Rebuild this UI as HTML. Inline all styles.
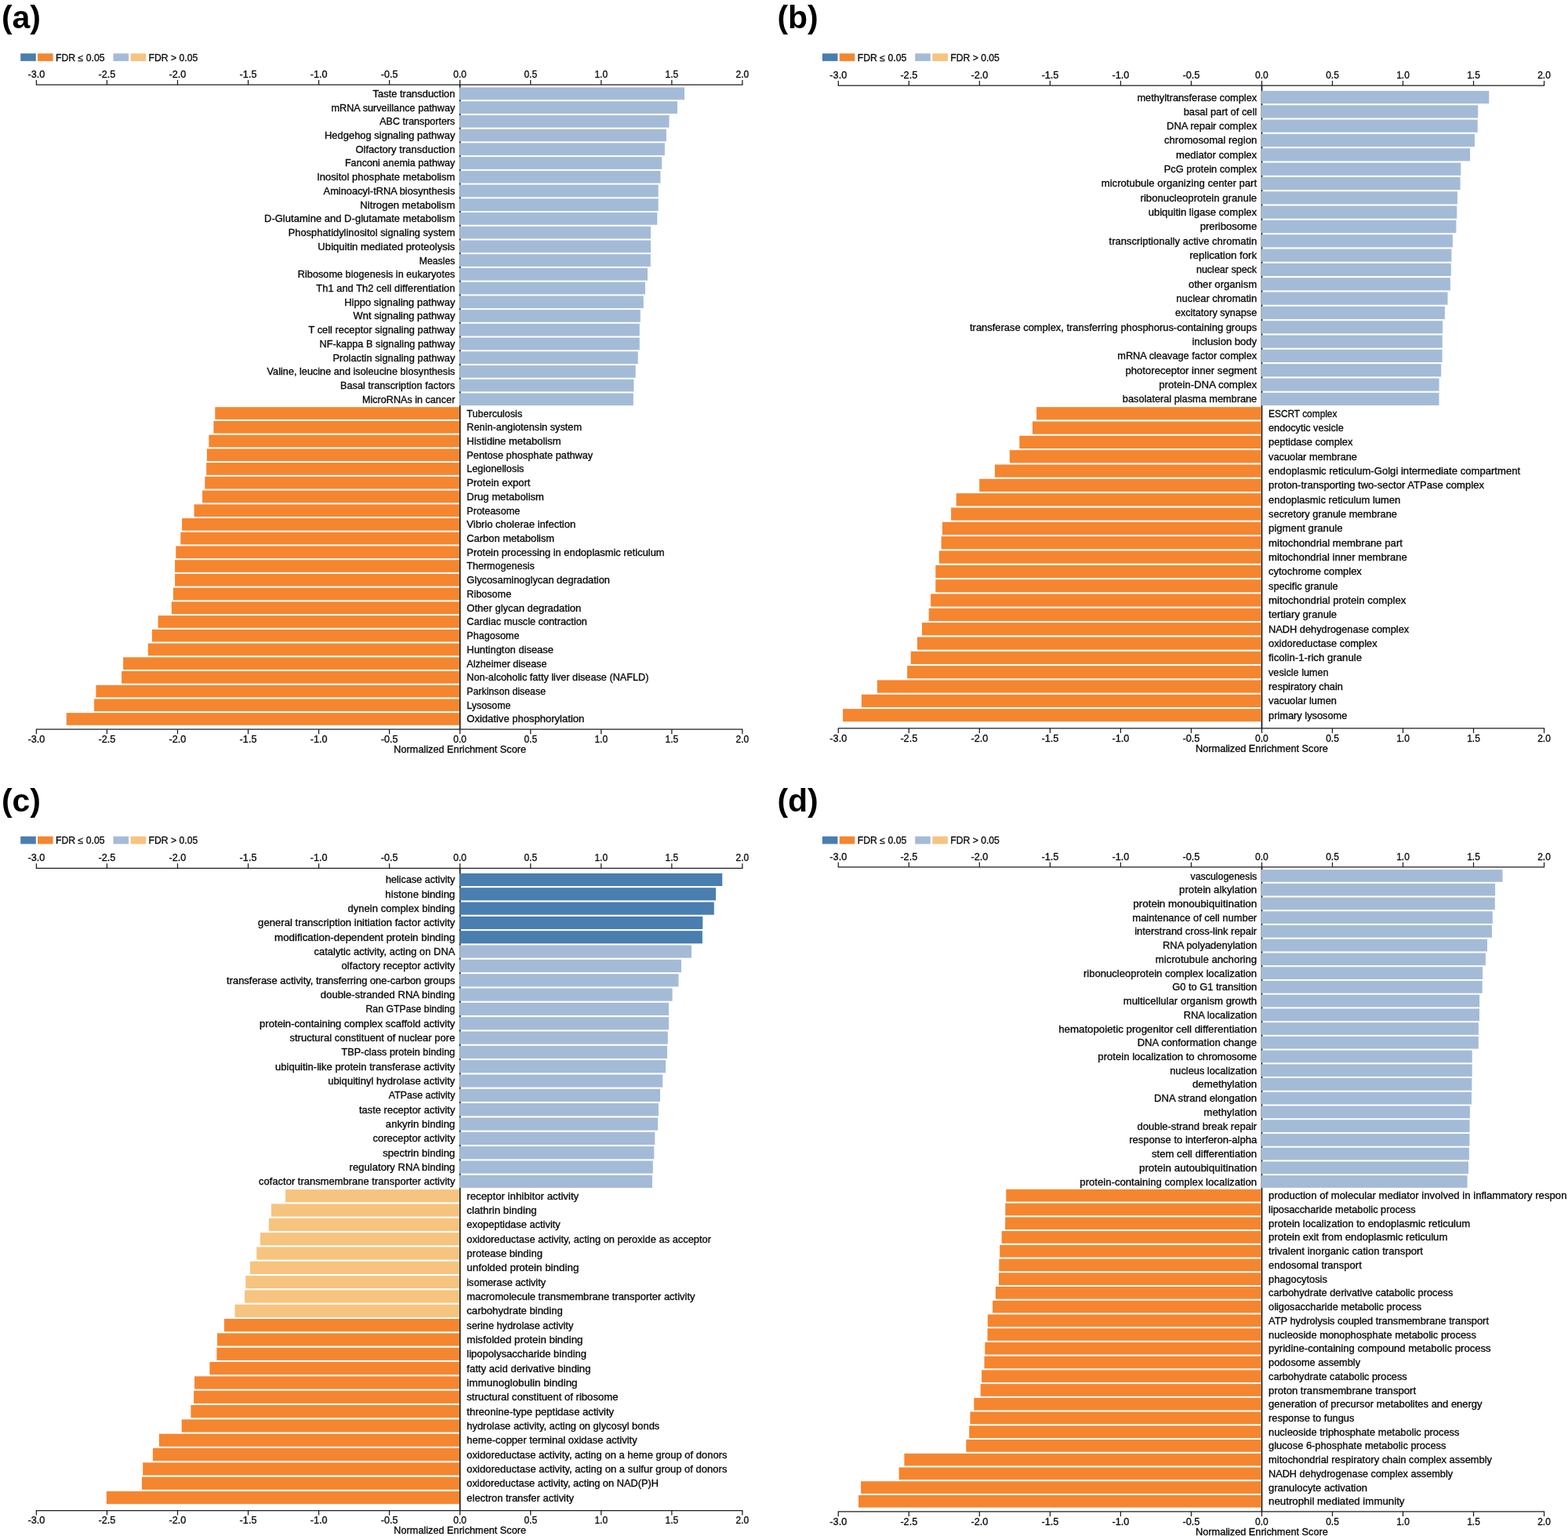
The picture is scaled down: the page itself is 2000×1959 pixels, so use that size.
<!DOCTYPE html>
<html lang="en">
<head>
<meta charset="utf-8">
<title>Normalized Enrichment Score bar charts</title>
<style>
html,body{margin:0;padding:0;background:#fff;}
body{width:2000px;height:1959px;overflow:hidden;}
svg{display:block;font-family:'Liberation Sans', sans-serif;font-size:12.2px;fill:#0a0a0a;}
text{stroke:#000;stroke-width:0.3px;stroke-linejoin:round;}
text.pl{stroke:none;}
</style>
</head>
<body>
<svg width="2000" height="1959" viewBox="0 0 2000 1959" role="img" aria-label="Normalized Enrichment Score bar charts, panels a to d">
<defs><clipPath id="edge"><rect x="0" y="0" width="1998.7" height="1959"/></clipPath></defs>
<g id="panel-a">
<text x="1.9" y="36.3" font-weight="bold" font-size="41" fill="#000" class="pl">(a)</text>
<rect x="26.2" y="68.2" width="19.6" height="9.7" fill="#4a7eae"/>
<rect x="48" y="68.2" width="19.6" height="9.7" fill="#f5862f"/>
<text x="71" y="77.7" textLength="62.61" lengthAdjust="spacingAndGlyphs">FDR ≤ 0.05</text>
<rect x="144.5" y="68.2" width="19.6" height="9.7" fill="#a4bbd7"/>
<rect x="166.6" y="68.2" width="19.6" height="9.7" fill="#f6c47f"/>
<text x="189.6" y="77.7" textLength="62.61" lengthAdjust="spacingAndGlyphs">FDR &gt; 0.05</text>
<path d="M586.7 108L586.7 930.2" stroke="#0d0d0d" stroke-width="1.6" fill="none"/>
<rect x="586.1" y="111.5" width="286.9" height="15.7" fill="#a4bbd7"/>
<text x="580.4" y="123.8" text-anchor="end" textLength="104.85" lengthAdjust="spacingAndGlyphs">Taste transduction</text>
<rect x="586.1" y="129.23" width="277.9" height="15.7" fill="#a4bbd7"/>
<text x="580.4" y="141.53" text-anchor="end" textLength="157.93" lengthAdjust="spacingAndGlyphs">mRNA surveillance pathway</text>
<rect x="586.1" y="146.95" width="267.4" height="15.7" fill="#a4bbd7"/>
<text x="580.4" y="159.25" text-anchor="end" textLength="96.16" lengthAdjust="spacingAndGlyphs">ABC transporters</text>
<rect x="586.1" y="164.68" width="263.8" height="15.7" fill="#a4bbd7"/>
<text x="580.4" y="176.98" text-anchor="end" textLength="166.45" lengthAdjust="spacingAndGlyphs">Hedgehog signaling pathway</text>
<rect x="586.1" y="182.4" width="261.8" height="15.7" fill="#a4bbd7"/>
<text x="580.4" y="194.7" text-anchor="end" textLength="126.99" lengthAdjust="spacingAndGlyphs">Olfactory transduction</text>
<rect x="586.1" y="200.13" width="258.1" height="15.7" fill="#a4bbd7"/>
<text x="580.4" y="212.43" text-anchor="end" textLength="140.5" lengthAdjust="spacingAndGlyphs">Fanconi anemia pathway</text>
<rect x="586.1" y="217.86" width="256.3" height="15.7" fill="#a4bbd7"/>
<text x="580.4" y="230.16" text-anchor="end" textLength="176.25" lengthAdjust="spacingAndGlyphs">Inositol phosphate metabolism</text>
<rect x="586.1" y="235.58" width="253.6" height="15.7" fill="#a4bbd7"/>
<text x="580.4" y="247.88" text-anchor="end" textLength="167.8" lengthAdjust="spacingAndGlyphs">Aminoacyl-tRNA biosynthesis</text>
<rect x="586.1" y="253.31" width="253.6" height="15.7" fill="#a4bbd7"/>
<text x="580.4" y="265.61" text-anchor="end" textLength="121.11" lengthAdjust="spacingAndGlyphs">Nitrogen metabolism</text>
<rect x="586.1" y="271.03" width="252.2" height="15.7" fill="#a4bbd7"/>
<text x="580.4" y="283.33" text-anchor="end" textLength="243.42" lengthAdjust="spacingAndGlyphs">D-Glutamine and D-glutamate metabolism</text>
<rect x="586.1" y="288.76" width="243.9" height="15.7" fill="#a4bbd7"/>
<text x="580.4" y="301.06" text-anchor="end" textLength="212.71" lengthAdjust="spacingAndGlyphs">Phosphatidylinositol signaling system</text>
<rect x="586.1" y="306.49" width="243.9" height="15.7" fill="#a4bbd7"/>
<text x="580.4" y="318.79" text-anchor="end" textLength="175.01" lengthAdjust="spacingAndGlyphs">Ubiquitin mediated proteolysis</text>
<rect x="586.1" y="324.21" width="243.7" height="15.7" fill="#a4bbd7"/>
<text x="580.4" y="336.51" text-anchor="end" textLength="45.72" lengthAdjust="spacingAndGlyphs">Measles</text>
<rect x="586.1" y="341.94" width="239.9" height="15.7" fill="#a4bbd7"/>
<text x="580.4" y="354.24" text-anchor="end" textLength="200.53" lengthAdjust="spacingAndGlyphs">Ribosome biogenesis in eukaryotes</text>
<rect x="586.1" y="359.66" width="236.9" height="15.7" fill="#a4bbd7"/>
<text x="580.4" y="371.96" text-anchor="end" textLength="177.06" lengthAdjust="spacingAndGlyphs">Th1 and Th2 cell differentiation</text>
<rect x="586.1" y="377.39" width="234.7" height="15.7" fill="#a4bbd7"/>
<text x="580.4" y="389.69" text-anchor="end" textLength="141.18" lengthAdjust="spacingAndGlyphs">Hippo signaling pathway</text>
<rect x="586.1" y="395.12" width="230.7" height="15.7" fill="#a4bbd7"/>
<text x="580.4" y="407.42" text-anchor="end" textLength="129.88" lengthAdjust="spacingAndGlyphs">Wnt signaling pathway</text>
<rect x="586.1" y="412.84" width="229.7" height="15.7" fill="#a4bbd7"/>
<text x="580.4" y="425.14" text-anchor="end" textLength="186.92" lengthAdjust="spacingAndGlyphs">T cell receptor signaling pathway</text>
<rect x="586.1" y="430.57" width="229.7" height="15.7" fill="#a4bbd7"/>
<text x="580.4" y="442.87" text-anchor="end" textLength="172.91" lengthAdjust="spacingAndGlyphs">NF-kappa B signaling pathway</text>
<rect x="586.1" y="448.29" width="227.6" height="15.7" fill="#a4bbd7"/>
<text x="580.4" y="460.59" text-anchor="end" textLength="155.88" lengthAdjust="spacingAndGlyphs">Prolactin signaling pathway</text>
<rect x="586.1" y="466.02" width="224.6" height="15.7" fill="#a4bbd7"/>
<text x="580.4" y="478.32" text-anchor="end" textLength="239.8" lengthAdjust="spacingAndGlyphs">Valine, leucine and isoleucine biosynthesis</text>
<rect x="586.1" y="483.75" width="222.3" height="15.7" fill="#a4bbd7"/>
<text x="580.4" y="496.05" text-anchor="end" textLength="146.35" lengthAdjust="spacingAndGlyphs">Basal transcription factors</text>
<rect x="586.1" y="501.47" width="221.7" height="15.7" fill="#a4bbd7"/>
<text x="580.4" y="513.77" text-anchor="end" textLength="118.4" lengthAdjust="spacingAndGlyphs">MicroRNAs in cancer</text>
<rect x="274.3" y="519.2" width="311.6" height="15.7" fill="#f5862f"/>
<text x="595.3" y="531.5" textLength="70.9" lengthAdjust="spacingAndGlyphs">Tuberculosis</text>
<rect x="272.4" y="536.92" width="313.5" height="15.7" fill="#f5862f"/>
<text x="595.3" y="549.22" textLength="146.74" lengthAdjust="spacingAndGlyphs">Renin-angiotensin system</text>
<rect x="266.4" y="554.65" width="319.5" height="15.7" fill="#f5862f"/>
<text x="595.3" y="566.95" textLength="120.3" lengthAdjust="spacingAndGlyphs">Histidine metabolism</text>
<rect x="263.9" y="572.38" width="322" height="15.7" fill="#f5862f"/>
<text x="595.3" y="584.68" textLength="160.91" lengthAdjust="spacingAndGlyphs">Pentose phosphate pathway</text>
<rect x="263.2" y="590.1" width="322.7" height="15.7" fill="#f5862f"/>
<text x="595.3" y="602.4" textLength="73.02" lengthAdjust="spacingAndGlyphs">Legionellosis</text>
<rect x="261.3" y="607.83" width="324.6" height="15.7" fill="#f5862f"/>
<text x="595.3" y="620.13" textLength="81.03" lengthAdjust="spacingAndGlyphs">Protein export</text>
<rect x="258.1" y="625.55" width="327.8" height="15.7" fill="#f5862f"/>
<text x="595.3" y="637.85" textLength="98.7" lengthAdjust="spacingAndGlyphs">Drug metabolism</text>
<rect x="247.6" y="643.28" width="338.3" height="15.7" fill="#f5862f"/>
<text x="595.3" y="655.58" textLength="67.84" lengthAdjust="spacingAndGlyphs">Proteasome</text>
<rect x="232.1" y="661.01" width="353.8" height="15.7" fill="#f5862f"/>
<text x="595.3" y="673.31" textLength="138.98" lengthAdjust="spacingAndGlyphs">Vibrio cholerae infection</text>
<rect x="230.3" y="678.73" width="355.6" height="15.7" fill="#f5862f"/>
<text x="595.3" y="691.03" textLength="111.77" lengthAdjust="spacingAndGlyphs">Carbon metabolism</text>
<rect x="224.3" y="696.46" width="361.6" height="15.7" fill="#f5862f"/>
<text x="595.3" y="708.76" textLength="252.32" lengthAdjust="spacingAndGlyphs">Protein processing in endoplasmic reticulum</text>
<rect x="223.1" y="714.18" width="362.8" height="15.7" fill="#f5862f"/>
<text x="595.3" y="726.48" textLength="86.42" lengthAdjust="spacingAndGlyphs">Thermogenesis</text>
<rect x="223.1" y="731.91" width="362.8" height="15.7" fill="#f5862f"/>
<text x="595.3" y="744.21" textLength="182.61" lengthAdjust="spacingAndGlyphs">Glycosaminoglycan degradation</text>
<rect x="220.9" y="749.64" width="365" height="15.7" fill="#f5862f"/>
<text x="595.3" y="761.94" textLength="56.87" lengthAdjust="spacingAndGlyphs">Ribosome</text>
<rect x="218.8" y="767.36" width="367.1" height="15.7" fill="#f5862f"/>
<text x="595.3" y="779.66" textLength="145.94" lengthAdjust="spacingAndGlyphs">Other glycan degradation</text>
<rect x="201.6" y="785.09" width="384.3" height="15.7" fill="#f5862f"/>
<text x="595.3" y="797.39" textLength="153.6" lengthAdjust="spacingAndGlyphs">Cardiac muscle contraction</text>
<rect x="193.9" y="802.81" width="392" height="15.7" fill="#f5862f"/>
<text x="595.3" y="815.11" textLength="67.11" lengthAdjust="spacingAndGlyphs">Phagosome</text>
<rect x="188.8" y="820.54" width="397.1" height="15.7" fill="#f5862f"/>
<text x="595.3" y="832.84" textLength="110.63" lengthAdjust="spacingAndGlyphs">Huntington disease</text>
<rect x="157.1" y="838.27" width="428.8" height="15.7" fill="#f5862f"/>
<text x="595.3" y="850.57" textLength="102.06" lengthAdjust="spacingAndGlyphs">Alzheimer disease</text>
<rect x="155.1" y="855.99" width="430.8" height="15.7" fill="#f5862f"/>
<text x="595.3" y="868.29" textLength="232.21" lengthAdjust="spacingAndGlyphs">Non-alcoholic fatty liver disease (NAFLD)</text>
<rect x="122.4" y="873.72" width="463.5" height="15.7" fill="#f5862f"/>
<text x="595.3" y="886.02" textLength="100.7" lengthAdjust="spacingAndGlyphs">Parkinson disease</text>
<rect x="120.1" y="891.44" width="465.8" height="15.7" fill="#f5862f"/>
<text x="595.3" y="903.74" textLength="56.22" lengthAdjust="spacingAndGlyphs">Lysosome</text>
<rect x="84.7" y="909.17" width="501.2" height="15.7" fill="#f5862f"/>
<text x="595.3" y="921.47" textLength="150" lengthAdjust="spacingAndGlyphs">Oxidative phosphorylation</text>
<path d="M45.85 108L947.45 108" stroke="#1c1c1c" stroke-width="1.25" fill="none"/>
<path d="M46.4 108L46.4 102" stroke="#1c1c1c" stroke-width="1.25" fill="none"/>
<text x="46.4" y="98.7" text-anchor="middle" textLength="21.86" lengthAdjust="spacingAndGlyphs">-3.0</text>
<path d="M136.45 108L136.45 102" stroke="#1c1c1c" stroke-width="1.25" fill="none"/>
<text x="136.45" y="98.7" text-anchor="middle" textLength="21.86" lengthAdjust="spacingAndGlyphs">-2.5</text>
<path d="M226.5 108L226.5 102" stroke="#1c1c1c" stroke-width="1.25" fill="none"/>
<text x="226.5" y="98.7" text-anchor="middle" textLength="21.86" lengthAdjust="spacingAndGlyphs">-2.0</text>
<path d="M316.55 108L316.55 102" stroke="#1c1c1c" stroke-width="1.25" fill="none"/>
<text x="316.55" y="98.7" text-anchor="middle" textLength="21.86" lengthAdjust="spacingAndGlyphs">-1.5</text>
<path d="M406.6 108L406.6 102" stroke="#1c1c1c" stroke-width="1.25" fill="none"/>
<text x="406.6" y="98.7" text-anchor="middle" textLength="21.86" lengthAdjust="spacingAndGlyphs">-1.0</text>
<path d="M496.65 108L496.65 102" stroke="#1c1c1c" stroke-width="1.25" fill="none"/>
<text x="496.65" y="98.7" text-anchor="middle" textLength="21.86" lengthAdjust="spacingAndGlyphs">-0.5</text>
<path d="M586.7 108L586.7 102" stroke="#1c1c1c" stroke-width="1.25" fill="none"/>
<text x="586.7" y="98.7" text-anchor="middle" textLength="16.7" lengthAdjust="spacingAndGlyphs">0.0</text>
<path d="M676.75 108L676.75 102" stroke="#1c1c1c" stroke-width="1.25" fill="none"/>
<text x="676.75" y="98.7" text-anchor="middle" textLength="16.7" lengthAdjust="spacingAndGlyphs">0.5</text>
<path d="M766.8 108L766.8 102" stroke="#1c1c1c" stroke-width="1.25" fill="none"/>
<text x="766.8" y="98.7" text-anchor="middle" textLength="16.7" lengthAdjust="spacingAndGlyphs">1.0</text>
<path d="M856.85 108L856.85 102" stroke="#1c1c1c" stroke-width="1.25" fill="none"/>
<text x="856.85" y="98.7" text-anchor="middle" textLength="16.7" lengthAdjust="spacingAndGlyphs">1.5</text>
<path d="M946.9 108L946.9 102" stroke="#1c1c1c" stroke-width="1.25" fill="none"/>
<text x="946.9" y="98.7" text-anchor="middle" textLength="16.7" lengthAdjust="spacingAndGlyphs">2.0</text>
<path d="M45.85 930.2L947.45 930.2" stroke="#1c1c1c" stroke-width="1.25" fill="none"/>
<path d="M46.4 930.2L46.4 936.2" stroke="#1c1c1c" stroke-width="1.25" fill="none"/>
<text x="46.4" y="947.1" text-anchor="middle" textLength="21.86" lengthAdjust="spacingAndGlyphs">-3.0</text>
<path d="M136.45 930.2L136.45 936.2" stroke="#1c1c1c" stroke-width="1.25" fill="none"/>
<text x="136.45" y="947.1" text-anchor="middle" textLength="21.86" lengthAdjust="spacingAndGlyphs">-2.5</text>
<path d="M226.5 930.2L226.5 936.2" stroke="#1c1c1c" stroke-width="1.25" fill="none"/>
<text x="226.5" y="947.1" text-anchor="middle" textLength="21.86" lengthAdjust="spacingAndGlyphs">-2.0</text>
<path d="M316.55 930.2L316.55 936.2" stroke="#1c1c1c" stroke-width="1.25" fill="none"/>
<text x="316.55" y="947.1" text-anchor="middle" textLength="21.86" lengthAdjust="spacingAndGlyphs">-1.5</text>
<path d="M406.6 930.2L406.6 936.2" stroke="#1c1c1c" stroke-width="1.25" fill="none"/>
<text x="406.6" y="947.1" text-anchor="middle" textLength="21.86" lengthAdjust="spacingAndGlyphs">-1.0</text>
<path d="M496.65 930.2L496.65 936.2" stroke="#1c1c1c" stroke-width="1.25" fill="none"/>
<text x="496.65" y="947.1" text-anchor="middle" textLength="21.86" lengthAdjust="spacingAndGlyphs">-0.5</text>
<path d="M586.7 930.2L586.7 936.2" stroke="#1c1c1c" stroke-width="1.25" fill="none"/>
<text x="586.7" y="947.1" text-anchor="middle" textLength="16.7" lengthAdjust="spacingAndGlyphs">0.0</text>
<path d="M676.75 930.2L676.75 936.2" stroke="#1c1c1c" stroke-width="1.25" fill="none"/>
<text x="676.75" y="947.1" text-anchor="middle" textLength="16.7" lengthAdjust="spacingAndGlyphs">0.5</text>
<path d="M766.8 930.2L766.8 936.2" stroke="#1c1c1c" stroke-width="1.25" fill="none"/>
<text x="766.8" y="947.1" text-anchor="middle" textLength="16.7" lengthAdjust="spacingAndGlyphs">1.0</text>
<path d="M856.85 930.2L856.85 936.2" stroke="#1c1c1c" stroke-width="1.25" fill="none"/>
<text x="856.85" y="947.1" text-anchor="middle" textLength="16.7" lengthAdjust="spacingAndGlyphs">1.5</text>
<path d="M946.9 930.2L946.9 936.2" stroke="#1c1c1c" stroke-width="1.25" fill="none"/>
<text x="946.9" y="947.1" text-anchor="middle" textLength="16.7" lengthAdjust="spacingAndGlyphs">2.0</text>
<text x="586.7" y="959.8" text-anchor="middle" textLength="168.69" lengthAdjust="spacingAndGlyphs">Normalized Enrichment Score</text>
</g>
<g id="panel-b">
<text x="991.4" y="35.9" font-weight="bold" font-size="41" fill="#000" class="pl">(b)</text>
<rect x="1048.9" y="68.2" width="19.6" height="9.7" fill="#4a7eae"/>
<rect x="1070.7" y="68.2" width="19.6" height="9.7" fill="#f5862f"/>
<text x="1093.7" y="77.7" textLength="62.61" lengthAdjust="spacingAndGlyphs">FDR ≤ 0.05</text>
<rect x="1167.2" y="68.2" width="19.6" height="9.7" fill="#a4bbd7"/>
<rect x="1189.3" y="68.2" width="19.6" height="9.7" fill="#f6c47f"/>
<text x="1212.3" y="77.7" textLength="62.61" lengthAdjust="spacingAndGlyphs">FDR &gt; 0.05</text>
<path d="M1609.45 109.05L1609.45 928.95" stroke="#0d0d0d" stroke-width="1.6" fill="none"/>
<rect x="1608.85" y="115.9" width="290.45" height="16.2" fill="#a4bbd7"/>
<text x="1603.15" y="128.5" text-anchor="end" textLength="152.68" lengthAdjust="spacingAndGlyphs">methyltransferase complex</text>
<rect x="1608.85" y="134.23" width="276.35" height="16.2" fill="#a4bbd7"/>
<text x="1603.15" y="146.83" text-anchor="end" textLength="93.47" lengthAdjust="spacingAndGlyphs">basal part of cell</text>
<rect x="1608.85" y="152.56" width="275.85" height="16.2" fill="#a4bbd7"/>
<text x="1603.15" y="165.16" text-anchor="end" textLength="115.09" lengthAdjust="spacingAndGlyphs">DNA repair complex</text>
<rect x="1608.85" y="170.89" width="272.05" height="16.2" fill="#a4bbd7"/>
<text x="1603.15" y="183.49" text-anchor="end" textLength="118.13" lengthAdjust="spacingAndGlyphs">chromosomal region</text>
<rect x="1608.85" y="189.22" width="266.25" height="16.2" fill="#a4bbd7"/>
<text x="1603.15" y="201.82" text-anchor="end" textLength="103.07" lengthAdjust="spacingAndGlyphs">mediator complex</text>
<rect x="1608.85" y="207.55" width="254.45" height="16.2" fill="#a4bbd7"/>
<text x="1603.15" y="220.15" text-anchor="end" textLength="118.27" lengthAdjust="spacingAndGlyphs">PcG protein complex</text>
<rect x="1608.85" y="225.88" width="253.75" height="16.2" fill="#a4bbd7"/>
<text x="1603.15" y="238.48" text-anchor="end" textLength="198.37" lengthAdjust="spacingAndGlyphs">microtubule organizing center part</text>
<rect x="1608.85" y="244.21" width="250.05" height="16.2" fill="#a4bbd7"/>
<text x="1603.15" y="256.81" text-anchor="end" textLength="148.58" lengthAdjust="spacingAndGlyphs">ribonucleoprotein granule</text>
<rect x="1608.85" y="262.54" width="249.45" height="16.2" fill="#a4bbd7"/>
<text x="1603.15" y="275.14" text-anchor="end" textLength="138.5" lengthAdjust="spacingAndGlyphs">ubiquitin ligase complex</text>
<rect x="1608.85" y="280.87" width="248.55" height="16.2" fill="#a4bbd7"/>
<text x="1603.15" y="293.47" text-anchor="end" textLength="72.47" lengthAdjust="spacingAndGlyphs">preribosome</text>
<rect x="1608.85" y="299.2" width="244.05" height="16.2" fill="#a4bbd7"/>
<text x="1603.15" y="311.8" text-anchor="end" textLength="188.54" lengthAdjust="spacingAndGlyphs">transcriptionally active chromatin</text>
<rect x="1608.85" y="317.53" width="242.55" height="16.2" fill="#a4bbd7"/>
<text x="1603.15" y="330.13" text-anchor="end" textLength="85.99" lengthAdjust="spacingAndGlyphs">replication fork</text>
<rect x="1608.85" y="335.86" width="241.95" height="16.2" fill="#a4bbd7"/>
<text x="1603.15" y="348.46" text-anchor="end" textLength="77.2" lengthAdjust="spacingAndGlyphs">nuclear speck</text>
<rect x="1608.85" y="354.19" width="241.05" height="16.2" fill="#a4bbd7"/>
<text x="1603.15" y="366.79" text-anchor="end" textLength="87.2" lengthAdjust="spacingAndGlyphs">other organism</text>
<rect x="1608.85" y="372.52" width="237.65" height="16.2" fill="#a4bbd7"/>
<text x="1603.15" y="385.12" text-anchor="end" textLength="102.79" lengthAdjust="spacingAndGlyphs">nuclear chromatin</text>
<rect x="1608.85" y="390.85" width="234.05" height="16.2" fill="#a4bbd7"/>
<text x="1603.15" y="403.45" text-anchor="end" textLength="104.25" lengthAdjust="spacingAndGlyphs">excitatory synapse</text>
<rect x="1608.85" y="409.18" width="231.25" height="16.2" fill="#a4bbd7"/>
<text x="1603.15" y="421.78" text-anchor="end" textLength="366.14" lengthAdjust="spacingAndGlyphs">transferase complex, transferring phosphorus-containing groups</text>
<rect x="1608.85" y="427.51" width="230.95" height="16.2" fill="#a4bbd7"/>
<text x="1603.15" y="440.11" text-anchor="end" textLength="82.75" lengthAdjust="spacingAndGlyphs">inclusion body</text>
<rect x="1608.85" y="445.84" width="230.75" height="16.2" fill="#a4bbd7"/>
<text x="1603.15" y="458.44" text-anchor="end" textLength="177.85" lengthAdjust="spacingAndGlyphs">mRNA cleavage factor complex</text>
<rect x="1608.85" y="464.17" width="229.35" height="16.2" fill="#a4bbd7"/>
<text x="1603.15" y="476.77" text-anchor="end" textLength="167.7" lengthAdjust="spacingAndGlyphs">photoreceptor inner segment</text>
<rect x="1608.85" y="482.5" width="226.75" height="16.2" fill="#a4bbd7"/>
<text x="1603.15" y="495.1" text-anchor="end" textLength="124.89" lengthAdjust="spacingAndGlyphs">protein-DNA complex</text>
<rect x="1608.85" y="500.83" width="226.65" height="16.2" fill="#a4bbd7"/>
<text x="1603.15" y="513.43" text-anchor="end" textLength="171.28" lengthAdjust="spacingAndGlyphs">basolateral plasma membrane</text>
<rect x="1322.1" y="519.16" width="286.55" height="16.2" fill="#f5862f"/>
<text x="1618.05" y="531.76" textLength="87.38" lengthAdjust="spacingAndGlyphs">ESCRT complex</text>
<rect x="1316.9" y="537.49" width="291.75" height="16.2" fill="#f5862f"/>
<text x="1618.05" y="550.09" textLength="95.74" lengthAdjust="spacingAndGlyphs">endocytic vesicle</text>
<rect x="1300.3" y="555.82" width="308.35" height="16.2" fill="#f5862f"/>
<text x="1618.05" y="568.42" textLength="107.32" lengthAdjust="spacingAndGlyphs">peptidase complex</text>
<rect x="1287.8" y="574.15" width="320.85" height="16.2" fill="#f5862f"/>
<text x="1618.05" y="586.75" textLength="112.91" lengthAdjust="spacingAndGlyphs">vacuolar membrane</text>
<rect x="1268.9" y="592.48" width="339.75" height="16.2" fill="#f5862f"/>
<text x="1618.05" y="605.08" textLength="321.08" lengthAdjust="spacingAndGlyphs">endoplasmic reticulum-Golgi intermediate compartment</text>
<rect x="1249.2" y="610.81" width="359.45" height="16.2" fill="#f5862f"/>
<text x="1618.05" y="623.41" textLength="274.93" lengthAdjust="spacingAndGlyphs">proton-transporting two-sector ATPase complex</text>
<rect x="1219.7" y="629.14" width="388.95" height="16.2" fill="#f5862f"/>
<text x="1618.05" y="641.74" textLength="168.29" lengthAdjust="spacingAndGlyphs">endoplasmic reticulum lumen</text>
<rect x="1213.1" y="647.47" width="395.55" height="16.2" fill="#f5862f"/>
<text x="1618.05" y="660.07" textLength="163.9" lengthAdjust="spacingAndGlyphs">secretory granule membrane</text>
<rect x="1201.9" y="665.8" width="406.75" height="16.2" fill="#f5862f"/>
<text x="1618.05" y="678.4" textLength="94.46" lengthAdjust="spacingAndGlyphs">pigment granule</text>
<rect x="1200.6" y="684.13" width="408.05" height="16.2" fill="#f5862f"/>
<text x="1618.05" y="696.73" textLength="170.87" lengthAdjust="spacingAndGlyphs">mitochondrial membrane part</text>
<rect x="1197.8" y="702.46" width="410.85" height="16.2" fill="#f5862f"/>
<text x="1618.05" y="715.06" textLength="176.83" lengthAdjust="spacingAndGlyphs">mitochondrial inner membrane</text>
<rect x="1193.3" y="720.79" width="415.35" height="16.2" fill="#f5862f"/>
<text x="1618.05" y="733.39" textLength="118.81" lengthAdjust="spacingAndGlyphs">cytochrome complex</text>
<rect x="1193.3" y="739.12" width="415.35" height="16.2" fill="#f5862f"/>
<text x="1618.05" y="751.72" textLength="88.66" lengthAdjust="spacingAndGlyphs">specific granule</text>
<rect x="1187.1" y="757.45" width="421.55" height="16.2" fill="#f5862f"/>
<text x="1618.05" y="770.05" textLength="175.4" lengthAdjust="spacingAndGlyphs">mitochondrial protein complex</text>
<rect x="1184.7" y="775.78" width="423.95" height="16.2" fill="#f5862f"/>
<text x="1618.05" y="788.38" textLength="87.04" lengthAdjust="spacingAndGlyphs">tertiary granule</text>
<rect x="1176" y="794.11" width="432.65" height="16.2" fill="#f5862f"/>
<text x="1618.05" y="806.71" textLength="179.16" lengthAdjust="spacingAndGlyphs">NADH dehydrogenase complex</text>
<rect x="1170" y="812.44" width="438.65" height="16.2" fill="#f5862f"/>
<text x="1618.05" y="825.04" textLength="138.52" lengthAdjust="spacingAndGlyphs">oxidoreductase complex</text>
<rect x="1161.7" y="830.77" width="446.95" height="16.2" fill="#f5862f"/>
<text x="1618.05" y="843.37" textLength="119.02" lengthAdjust="spacingAndGlyphs">ficolin-1-rich granule</text>
<rect x="1157.1" y="849.1" width="451.55" height="16.2" fill="#f5862f"/>
<text x="1618.05" y="861.7" textLength="76.47" lengthAdjust="spacingAndGlyphs">vesicle lumen</text>
<rect x="1118.9" y="867.43" width="489.75" height="16.2" fill="#f5862f"/>
<text x="1618.05" y="880.03" textLength="94.91" lengthAdjust="spacingAndGlyphs">respiratory chain</text>
<rect x="1098.9" y="885.76" width="509.75" height="16.2" fill="#f5862f"/>
<text x="1618.05" y="898.36" textLength="86.85" lengthAdjust="spacingAndGlyphs">vacuolar lumen</text>
<rect x="1075.1" y="904.09" width="533.55" height="16.2" fill="#f5862f"/>
<text x="1618.05" y="916.69" textLength="100.38" lengthAdjust="spacingAndGlyphs">primary lysosome</text>
<path d="M1068.75 109.05L1970.1 109.05" stroke="#1c1c1c" stroke-width="1.25" fill="none"/>
<path d="M1069.3 109.05L1069.3 103.05" stroke="#1c1c1c" stroke-width="1.25" fill="none"/>
<text x="1069.3" y="99.75" text-anchor="middle" textLength="21.86" lengthAdjust="spacingAndGlyphs">-3.0</text>
<path d="M1159.33 109.05L1159.33 103.05" stroke="#1c1c1c" stroke-width="1.25" fill="none"/>
<text x="1159.33" y="99.75" text-anchor="middle" textLength="21.86" lengthAdjust="spacingAndGlyphs">-2.5</text>
<path d="M1249.35 109.05L1249.35 103.05" stroke="#1c1c1c" stroke-width="1.25" fill="none"/>
<text x="1249.35" y="99.75" text-anchor="middle" textLength="21.86" lengthAdjust="spacingAndGlyphs">-2.0</text>
<path d="M1339.38 109.05L1339.38 103.05" stroke="#1c1c1c" stroke-width="1.25" fill="none"/>
<text x="1339.38" y="99.75" text-anchor="middle" textLength="21.86" lengthAdjust="spacingAndGlyphs">-1.5</text>
<path d="M1429.4 109.05L1429.4 103.05" stroke="#1c1c1c" stroke-width="1.25" fill="none"/>
<text x="1429.4" y="99.75" text-anchor="middle" textLength="21.86" lengthAdjust="spacingAndGlyphs">-1.0</text>
<path d="M1519.42 109.05L1519.42 103.05" stroke="#1c1c1c" stroke-width="1.25" fill="none"/>
<text x="1519.42" y="99.75" text-anchor="middle" textLength="21.86" lengthAdjust="spacingAndGlyphs">-0.5</text>
<path d="M1609.45 109.05L1609.45 103.05" stroke="#1c1c1c" stroke-width="1.25" fill="none"/>
<text x="1609.45" y="99.75" text-anchor="middle" textLength="16.7" lengthAdjust="spacingAndGlyphs">0.0</text>
<path d="M1699.48 109.05L1699.48 103.05" stroke="#1c1c1c" stroke-width="1.25" fill="none"/>
<text x="1699.48" y="99.75" text-anchor="middle" textLength="16.7" lengthAdjust="spacingAndGlyphs">0.5</text>
<path d="M1789.5 109.05L1789.5 103.05" stroke="#1c1c1c" stroke-width="1.25" fill="none"/>
<text x="1789.5" y="99.75" text-anchor="middle" textLength="16.7" lengthAdjust="spacingAndGlyphs">1.0</text>
<path d="M1879.53 109.05L1879.53 103.05" stroke="#1c1c1c" stroke-width="1.25" fill="none"/>
<text x="1879.53" y="99.75" text-anchor="middle" textLength="16.7" lengthAdjust="spacingAndGlyphs">1.5</text>
<path d="M1969.55 109.05L1969.55 103.05" stroke="#1c1c1c" stroke-width="1.25" fill="none"/>
<text x="1969.55" y="99.75" text-anchor="middle" textLength="16.7" lengthAdjust="spacingAndGlyphs">2.0</text>
<path d="M1068.75 928.95L1970.1 928.95" stroke="#1c1c1c" stroke-width="1.25" fill="none"/>
<path d="M1069.3 928.95L1069.3 934.95" stroke="#1c1c1c" stroke-width="1.25" fill="none"/>
<text x="1069.3" y="945.85" text-anchor="middle" textLength="21.86" lengthAdjust="spacingAndGlyphs">-3.0</text>
<path d="M1159.33 928.95L1159.33 934.95" stroke="#1c1c1c" stroke-width="1.25" fill="none"/>
<text x="1159.33" y="945.85" text-anchor="middle" textLength="21.86" lengthAdjust="spacingAndGlyphs">-2.5</text>
<path d="M1249.35 928.95L1249.35 934.95" stroke="#1c1c1c" stroke-width="1.25" fill="none"/>
<text x="1249.35" y="945.85" text-anchor="middle" textLength="21.86" lengthAdjust="spacingAndGlyphs">-2.0</text>
<path d="M1339.38 928.95L1339.38 934.95" stroke="#1c1c1c" stroke-width="1.25" fill="none"/>
<text x="1339.38" y="945.85" text-anchor="middle" textLength="21.86" lengthAdjust="spacingAndGlyphs">-1.5</text>
<path d="M1429.4 928.95L1429.4 934.95" stroke="#1c1c1c" stroke-width="1.25" fill="none"/>
<text x="1429.4" y="945.85" text-anchor="middle" textLength="21.86" lengthAdjust="spacingAndGlyphs">-1.0</text>
<path d="M1519.42 928.95L1519.42 934.95" stroke="#1c1c1c" stroke-width="1.25" fill="none"/>
<text x="1519.42" y="945.85" text-anchor="middle" textLength="21.86" lengthAdjust="spacingAndGlyphs">-0.5</text>
<path d="M1609.45 928.95L1609.45 934.95" stroke="#1c1c1c" stroke-width="1.25" fill="none"/>
<text x="1609.45" y="945.85" text-anchor="middle" textLength="16.7" lengthAdjust="spacingAndGlyphs">0.0</text>
<path d="M1699.48 928.95L1699.48 934.95" stroke="#1c1c1c" stroke-width="1.25" fill="none"/>
<text x="1699.48" y="945.85" text-anchor="middle" textLength="16.7" lengthAdjust="spacingAndGlyphs">0.5</text>
<path d="M1789.5 928.95L1789.5 934.95" stroke="#1c1c1c" stroke-width="1.25" fill="none"/>
<text x="1789.5" y="945.85" text-anchor="middle" textLength="16.7" lengthAdjust="spacingAndGlyphs">1.0</text>
<path d="M1879.53 928.95L1879.53 934.95" stroke="#1c1c1c" stroke-width="1.25" fill="none"/>
<text x="1879.53" y="945.85" text-anchor="middle" textLength="16.7" lengthAdjust="spacingAndGlyphs">1.5</text>
<path d="M1969.55 928.95L1969.55 934.95" stroke="#1c1c1c" stroke-width="1.25" fill="none"/>
<text x="1969.55" y="945.85" text-anchor="middle" textLength="16.7" lengthAdjust="spacingAndGlyphs">2.0</text>
<text x="1609.45" y="958.55" text-anchor="middle" textLength="168.69" lengthAdjust="spacingAndGlyphs">Normalized Enrichment Score</text>
</g>
<g id="panel-c">
<text x="1.9" y="1035" font-weight="bold" font-size="41" fill="#000" class="pl">(c)</text>
<rect x="26.2" y="1066.7" width="19.6" height="9.7" fill="#4a7eae"/>
<rect x="48" y="1066.7" width="19.6" height="9.7" fill="#f5862f"/>
<text x="71" y="1076.2" textLength="62.61" lengthAdjust="spacingAndGlyphs">FDR ≤ 0.05</text>
<rect x="144.5" y="1066.7" width="19.6" height="9.7" fill="#a4bbd7"/>
<rect x="166.6" y="1066.7" width="19.6" height="9.7" fill="#f6c47f"/>
<text x="189.6" y="1076.2" textLength="62.61" lengthAdjust="spacingAndGlyphs">FDR &gt; 0.05</text>
<path d="M586.7 1107.25L586.7 1926.5" stroke="#0d0d0d" stroke-width="1.6" fill="none"/>
<rect x="586.1" y="1113.85" width="335.2" height="16.2" fill="#4a7eae"/>
<text x="580.4" y="1126.45" text-anchor="end" textLength="88.5" lengthAdjust="spacingAndGlyphs">helicase activity</text>
<rect x="586.1" y="1132.18" width="327" height="16.2" fill="#4a7eae"/>
<text x="580.4" y="1144.78" text-anchor="end" textLength="89.02" lengthAdjust="spacingAndGlyphs">histone binding</text>
<rect x="586.1" y="1150.51" width="324.7" height="16.2" fill="#4a7eae"/>
<text x="580.4" y="1163.11" text-anchor="end" textLength="136.96" lengthAdjust="spacingAndGlyphs">dynein complex binding</text>
<rect x="586.1" y="1168.84" width="310.2" height="16.2" fill="#4a7eae"/>
<text x="580.4" y="1181.44" text-anchor="end" textLength="251.28" lengthAdjust="spacingAndGlyphs">general transcription initiation factor activity</text>
<rect x="586.1" y="1187.17" width="309.8" height="16.2" fill="#4a7eae"/>
<text x="580.4" y="1199.77" text-anchor="end" textLength="230.39" lengthAdjust="spacingAndGlyphs">modification-dependent protein binding</text>
<rect x="586.1" y="1205.49" width="295.9" height="16.2" fill="#a4bbd7"/>
<text x="580.4" y="1218.09" text-anchor="end" textLength="179.89" lengthAdjust="spacingAndGlyphs">catalytic activity, acting on DNA</text>
<rect x="586.1" y="1223.82" width="282.9" height="16.2" fill="#a4bbd7"/>
<text x="580.4" y="1236.42" text-anchor="end" textLength="144.84" lengthAdjust="spacingAndGlyphs">olfactory receptor activity</text>
<rect x="586.1" y="1242.15" width="279.4" height="16.2" fill="#a4bbd7"/>
<text x="580.4" y="1254.75" text-anchor="end" textLength="291.32" lengthAdjust="spacingAndGlyphs">transferase activity, transferring one-carbon groups</text>
<rect x="586.1" y="1260.48" width="271.5" height="16.2" fill="#a4bbd7"/>
<text x="580.4" y="1273.08" text-anchor="end" textLength="171.54" lengthAdjust="spacingAndGlyphs">double-stranded RNA binding</text>
<rect x="586.1" y="1278.81" width="266.9" height="16.2" fill="#a4bbd7"/>
<text x="580.4" y="1291.41" text-anchor="end" textLength="113.87" lengthAdjust="spacingAndGlyphs">Ran GTPase binding</text>
<rect x="586.1" y="1297.14" width="266.9" height="16.2" fill="#a4bbd7"/>
<text x="580.4" y="1309.74" text-anchor="end" textLength="249.38" lengthAdjust="spacingAndGlyphs">protein-containing complex scaffold activity</text>
<rect x="586.1" y="1315.47" width="265.7" height="16.2" fill="#a4bbd7"/>
<text x="580.4" y="1328.07" text-anchor="end" textLength="210.94" lengthAdjust="spacingAndGlyphs">structural constituent of nuclear pore</text>
<rect x="586.1" y="1333.8" width="264.9" height="16.2" fill="#a4bbd7"/>
<text x="580.4" y="1346.4" text-anchor="end" textLength="144.97" lengthAdjust="spacingAndGlyphs">TBP-class protein binding</text>
<rect x="586.1" y="1352.13" width="263" height="16.2" fill="#a4bbd7"/>
<text x="580.4" y="1364.73" text-anchor="end" textLength="229.36" lengthAdjust="spacingAndGlyphs">ubiquitin-like protein transferase activity</text>
<rect x="586.1" y="1370.46" width="259.1" height="16.2" fill="#a4bbd7"/>
<text x="580.4" y="1383.06" text-anchor="end" textLength="162.23" lengthAdjust="spacingAndGlyphs">ubiquitinyl hydrolase activity</text>
<rect x="586.1" y="1388.78" width="255.9" height="16.2" fill="#a4bbd7"/>
<text x="580.4" y="1401.38" text-anchor="end" textLength="84.54" lengthAdjust="spacingAndGlyphs">ATPase activity</text>
<rect x="586.1" y="1407.11" width="253.9" height="16.2" fill="#a4bbd7"/>
<text x="580.4" y="1419.71" text-anchor="end" textLength="122.48" lengthAdjust="spacingAndGlyphs">taste receptor activity</text>
<rect x="586.1" y="1425.44" width="253" height="16.2" fill="#a4bbd7"/>
<text x="580.4" y="1438.04" text-anchor="end" textLength="88.56" lengthAdjust="spacingAndGlyphs">ankyrin binding</text>
<rect x="586.1" y="1443.77" width="249.2" height="16.2" fill="#a4bbd7"/>
<text x="580.4" y="1456.37" text-anchor="end" textLength="104.93" lengthAdjust="spacingAndGlyphs">coreceptor activity</text>
<rect x="586.1" y="1462.1" width="248.2" height="16.2" fill="#a4bbd7"/>
<text x="580.4" y="1474.7" text-anchor="end" textLength="92.19" lengthAdjust="spacingAndGlyphs">spectrin binding</text>
<rect x="586.1" y="1480.43" width="246.7" height="16.2" fill="#a4bbd7"/>
<text x="580.4" y="1493.03" text-anchor="end" textLength="134.83" lengthAdjust="spacingAndGlyphs">regulatory RNA binding</text>
<rect x="586.1" y="1498.76" width="245.9" height="16.2" fill="#a4bbd7"/>
<text x="580.4" y="1511.36" text-anchor="end" textLength="250.31" lengthAdjust="spacingAndGlyphs">cofactor transmembrane transporter activity</text>
<rect x="364.1" y="1517.09" width="221.8" height="16.2" fill="#f6c47f"/>
<text x="595.3" y="1529.69" textLength="142.93" lengthAdjust="spacingAndGlyphs">receptor inhibitor activity</text>
<rect x="346" y="1535.42" width="239.9" height="16.2" fill="#f6c47f"/>
<text x="595.3" y="1548.02" textLength="89.37" lengthAdjust="spacingAndGlyphs">clathrin binding</text>
<rect x="342.9" y="1553.75" width="243" height="16.2" fill="#f6c47f"/>
<text x="595.3" y="1566.35" textLength="119.48" lengthAdjust="spacingAndGlyphs">exopeptidase activity</text>
<rect x="332" y="1572.07" width="253.9" height="16.2" fill="#f6c47f"/>
<text x="595.3" y="1584.67" textLength="311.72" lengthAdjust="spacingAndGlyphs">oxidoreductase activity, acting on peroxide as acceptor</text>
<rect x="327.3" y="1590.4" width="258.6" height="16.2" fill="#f6c47f"/>
<text x="595.3" y="1603" textLength="96.68" lengthAdjust="spacingAndGlyphs">protease binding</text>
<rect x="318.9" y="1608.73" width="267" height="16.2" fill="#f6c47f"/>
<text x="595.3" y="1621.33" textLength="143.09" lengthAdjust="spacingAndGlyphs">unfolded protein binding</text>
<rect x="313.3" y="1627.06" width="272.6" height="16.2" fill="#f6c47f"/>
<text x="595.3" y="1639.66" textLength="100.74" lengthAdjust="spacingAndGlyphs">isomerase activity</text>
<rect x="312.1" y="1645.39" width="273.8" height="16.2" fill="#f6c47f"/>
<text x="595.3" y="1657.99" textLength="291.15" lengthAdjust="spacingAndGlyphs">macromolecule transmembrane transporter activity</text>
<rect x="299.6" y="1663.72" width="286.3" height="16.2" fill="#f6c47f"/>
<text x="595.3" y="1676.32" textLength="122.58" lengthAdjust="spacingAndGlyphs">carbohydrate binding</text>
<rect x="286" y="1682.05" width="299.9" height="16.2" fill="#f5862f"/>
<text x="595.3" y="1694.65" textLength="135.96" lengthAdjust="spacingAndGlyphs">serine hydrolase activity</text>
<rect x="277.1" y="1700.38" width="308.8" height="16.2" fill="#f5862f"/>
<text x="595.3" y="1712.98" textLength="148.19" lengthAdjust="spacingAndGlyphs">misfolded protein binding</text>
<rect x="276.4" y="1718.71" width="309.5" height="16.2" fill="#f5862f"/>
<text x="595.3" y="1731.31" textLength="152.79" lengthAdjust="spacingAndGlyphs">lipopolysaccharide binding</text>
<rect x="267.4" y="1737.04" width="318.5" height="16.2" fill="#f5862f"/>
<text x="595.3" y="1749.64" textLength="158.13" lengthAdjust="spacingAndGlyphs">fatty acid derivative binding</text>
<rect x="248.1" y="1755.36" width="337.8" height="16.2" fill="#f5862f"/>
<text x="595.3" y="1767.96" textLength="141.31" lengthAdjust="spacingAndGlyphs">immunoglobulin binding</text>
<rect x="247.1" y="1773.69" width="338.8" height="16.2" fill="#f5862f"/>
<text x="595.3" y="1786.29" textLength="193.17" lengthAdjust="spacingAndGlyphs">structural constituent of ribosome</text>
<rect x="243.4" y="1792.02" width="342.5" height="16.2" fill="#f5862f"/>
<text x="595.3" y="1804.62" textLength="187.82" lengthAdjust="spacingAndGlyphs">threonine-type peptidase activity</text>
<rect x="231.7" y="1810.35" width="354.2" height="16.2" fill="#f5862f"/>
<text x="595.3" y="1822.95" textLength="246.01" lengthAdjust="spacingAndGlyphs">hydrolase activity, acting on glycosyl bonds</text>
<rect x="202.9" y="1828.68" width="383" height="16.2" fill="#f5862f"/>
<text x="595.3" y="1841.28" textLength="217.32" lengthAdjust="spacingAndGlyphs">heme-copper terminal oxidase activity</text>
<rect x="194.9" y="1847.01" width="391" height="16.2" fill="#f5862f"/>
<text x="595.3" y="1859.61" textLength="332.29" lengthAdjust="spacingAndGlyphs">oxidoreductase activity, acting on a heme group of donors</text>
<rect x="182.2" y="1865.34" width="403.7" height="16.2" fill="#f5862f"/>
<text x="595.3" y="1877.94" textLength="332.11" lengthAdjust="spacingAndGlyphs">oxidoreductase activity, acting on a sulfur group of donors</text>
<rect x="180.9" y="1883.67" width="405" height="16.2" fill="#f5862f"/>
<text x="595.3" y="1896.27" textLength="244.79" lengthAdjust="spacingAndGlyphs">oxidoreductase activity, acting on NAD(P)H</text>
<rect x="135.8" y="1902" width="450.1" height="16.2" fill="#f5862f"/>
<text x="595.3" y="1914.6" textLength="136.78" lengthAdjust="spacingAndGlyphs">electron transfer activity</text>
<path d="M45.85 1107.25L947.45 1107.25" stroke="#1c1c1c" stroke-width="1.25" fill="none"/>
<path d="M46.4 1107.25L46.4 1101.25" stroke="#1c1c1c" stroke-width="1.25" fill="none"/>
<text x="46.4" y="1097.95" text-anchor="middle" textLength="21.86" lengthAdjust="spacingAndGlyphs">-3.0</text>
<path d="M136.45 1107.25L136.45 1101.25" stroke="#1c1c1c" stroke-width="1.25" fill="none"/>
<text x="136.45" y="1097.95" text-anchor="middle" textLength="21.86" lengthAdjust="spacingAndGlyphs">-2.5</text>
<path d="M226.5 1107.25L226.5 1101.25" stroke="#1c1c1c" stroke-width="1.25" fill="none"/>
<text x="226.5" y="1097.95" text-anchor="middle" textLength="21.86" lengthAdjust="spacingAndGlyphs">-2.0</text>
<path d="M316.55 1107.25L316.55 1101.25" stroke="#1c1c1c" stroke-width="1.25" fill="none"/>
<text x="316.55" y="1097.95" text-anchor="middle" textLength="21.86" lengthAdjust="spacingAndGlyphs">-1.5</text>
<path d="M406.6 1107.25L406.6 1101.25" stroke="#1c1c1c" stroke-width="1.25" fill="none"/>
<text x="406.6" y="1097.95" text-anchor="middle" textLength="21.86" lengthAdjust="spacingAndGlyphs">-1.0</text>
<path d="M496.65 1107.25L496.65 1101.25" stroke="#1c1c1c" stroke-width="1.25" fill="none"/>
<text x="496.65" y="1097.95" text-anchor="middle" textLength="21.86" lengthAdjust="spacingAndGlyphs">-0.5</text>
<path d="M586.7 1107.25L586.7 1101.25" stroke="#1c1c1c" stroke-width="1.25" fill="none"/>
<text x="586.7" y="1097.95" text-anchor="middle" textLength="16.7" lengthAdjust="spacingAndGlyphs">0.0</text>
<path d="M676.75 1107.25L676.75 1101.25" stroke="#1c1c1c" stroke-width="1.25" fill="none"/>
<text x="676.75" y="1097.95" text-anchor="middle" textLength="16.7" lengthAdjust="spacingAndGlyphs">0.5</text>
<path d="M766.8 1107.25L766.8 1101.25" stroke="#1c1c1c" stroke-width="1.25" fill="none"/>
<text x="766.8" y="1097.95" text-anchor="middle" textLength="16.7" lengthAdjust="spacingAndGlyphs">1.0</text>
<path d="M856.85 1107.25L856.85 1101.25" stroke="#1c1c1c" stroke-width="1.25" fill="none"/>
<text x="856.85" y="1097.95" text-anchor="middle" textLength="16.7" lengthAdjust="spacingAndGlyphs">1.5</text>
<path d="M946.9 1107.25L946.9 1101.25" stroke="#1c1c1c" stroke-width="1.25" fill="none"/>
<text x="946.9" y="1097.95" text-anchor="middle" textLength="16.7" lengthAdjust="spacingAndGlyphs">2.0</text>
<path d="M45.85 1926.5L947.45 1926.5" stroke="#1c1c1c" stroke-width="1.25" fill="none"/>
<path d="M46.4 1926.5L46.4 1932.5" stroke="#1c1c1c" stroke-width="1.25" fill="none"/>
<text x="46.4" y="1943.4" text-anchor="middle" textLength="21.86" lengthAdjust="spacingAndGlyphs">-3.0</text>
<path d="M136.45 1926.5L136.45 1932.5" stroke="#1c1c1c" stroke-width="1.25" fill="none"/>
<text x="136.45" y="1943.4" text-anchor="middle" textLength="21.86" lengthAdjust="spacingAndGlyphs">-2.5</text>
<path d="M226.5 1926.5L226.5 1932.5" stroke="#1c1c1c" stroke-width="1.25" fill="none"/>
<text x="226.5" y="1943.4" text-anchor="middle" textLength="21.86" lengthAdjust="spacingAndGlyphs">-2.0</text>
<path d="M316.55 1926.5L316.55 1932.5" stroke="#1c1c1c" stroke-width="1.25" fill="none"/>
<text x="316.55" y="1943.4" text-anchor="middle" textLength="21.86" lengthAdjust="spacingAndGlyphs">-1.5</text>
<path d="M406.6 1926.5L406.6 1932.5" stroke="#1c1c1c" stroke-width="1.25" fill="none"/>
<text x="406.6" y="1943.4" text-anchor="middle" textLength="21.86" lengthAdjust="spacingAndGlyphs">-1.0</text>
<path d="M496.65 1926.5L496.65 1932.5" stroke="#1c1c1c" stroke-width="1.25" fill="none"/>
<text x="496.65" y="1943.4" text-anchor="middle" textLength="21.86" lengthAdjust="spacingAndGlyphs">-0.5</text>
<path d="M586.7 1926.5L586.7 1932.5" stroke="#1c1c1c" stroke-width="1.25" fill="none"/>
<text x="586.7" y="1943.4" text-anchor="middle" textLength="16.7" lengthAdjust="spacingAndGlyphs">0.0</text>
<path d="M676.75 1926.5L676.75 1932.5" stroke="#1c1c1c" stroke-width="1.25" fill="none"/>
<text x="676.75" y="1943.4" text-anchor="middle" textLength="16.7" lengthAdjust="spacingAndGlyphs">0.5</text>
<path d="M766.8 1926.5L766.8 1932.5" stroke="#1c1c1c" stroke-width="1.25" fill="none"/>
<text x="766.8" y="1943.4" text-anchor="middle" textLength="16.7" lengthAdjust="spacingAndGlyphs">1.0</text>
<path d="M856.85 1926.5L856.85 1932.5" stroke="#1c1c1c" stroke-width="1.25" fill="none"/>
<text x="856.85" y="1943.4" text-anchor="middle" textLength="16.7" lengthAdjust="spacingAndGlyphs">1.5</text>
<path d="M946.9 1926.5L946.9 1932.5" stroke="#1c1c1c" stroke-width="1.25" fill="none"/>
<text x="946.9" y="1943.4" text-anchor="middle" textLength="16.7" lengthAdjust="spacingAndGlyphs">2.0</text>
<text x="586.7" y="1956.1" text-anchor="middle" textLength="168.69" lengthAdjust="spacingAndGlyphs">Normalized Enrichment Score</text>
</g>
<g id="panel-d">
<text x="991.4" y="1035" font-weight="bold" font-size="41" fill="#000" class="pl">(d)</text>
<rect x="1048.9" y="1066.7" width="19.6" height="9.7" fill="#4a7eae"/>
<rect x="1070.7" y="1066.7" width="19.6" height="9.7" fill="#f5862f"/>
<text x="1093.7" y="1076.2" textLength="62.61" lengthAdjust="spacingAndGlyphs">FDR ≤ 0.05</text>
<rect x="1167.2" y="1066.7" width="19.6" height="9.7" fill="#a4bbd7"/>
<rect x="1189.3" y="1066.7" width="19.6" height="9.7" fill="#f6c47f"/>
<text x="1212.3" y="1076.2" textLength="62.61" lengthAdjust="spacingAndGlyphs">FDR &gt; 0.05</text>
<path d="M1609.45 1105.8L1609.45 1927.95" stroke="#0d0d0d" stroke-width="1.6" fill="none"/>
<rect x="1608.85" y="1109.1" width="307.65" height="15.7" fill="#a4bbd7"/>
<text x="1603.15" y="1121.5" text-anchor="end" textLength="84.62" lengthAdjust="spacingAndGlyphs">vasculogenesis</text>
<rect x="1608.85" y="1126.83" width="298.25" height="15.7" fill="#a4bbd7"/>
<text x="1603.15" y="1139.23" text-anchor="end" textLength="99.09" lengthAdjust="spacingAndGlyphs">protein alkylation</text>
<rect x="1608.85" y="1144.56" width="297.95" height="15.7" fill="#a4bbd7"/>
<text x="1603.15" y="1156.96" text-anchor="end" textLength="157.96" lengthAdjust="spacingAndGlyphs">protein monoubiquitination</text>
<rect x="1608.85" y="1162.29" width="294.95" height="15.7" fill="#a4bbd7"/>
<text x="1603.15" y="1174.69" text-anchor="end" textLength="158.77" lengthAdjust="spacingAndGlyphs">maintenance of cell number</text>
<rect x="1608.85" y="1180.02" width="294.15" height="15.7" fill="#a4bbd7"/>
<text x="1603.15" y="1192.42" text-anchor="end" textLength="155.97" lengthAdjust="spacingAndGlyphs">interstrand cross-link repair</text>
<rect x="1608.85" y="1197.75" width="288.15" height="15.7" fill="#a4bbd7"/>
<text x="1603.15" y="1210.15" text-anchor="end" textLength="120.19" lengthAdjust="spacingAndGlyphs">RNA polyadenylation</text>
<rect x="1608.85" y="1215.48" width="286.05" height="15.7" fill="#a4bbd7"/>
<text x="1603.15" y="1227.88" text-anchor="end" textLength="129.38" lengthAdjust="spacingAndGlyphs">microtubule anchoring</text>
<rect x="1608.85" y="1233.21" width="282.25" height="15.7" fill="#a4bbd7"/>
<text x="1603.15" y="1245.61" text-anchor="end" textLength="221.21" lengthAdjust="spacingAndGlyphs">ribonucleoprotein complex localization</text>
<rect x="1608.85" y="1250.94" width="281.85" height="15.7" fill="#a4bbd7"/>
<text x="1603.15" y="1263.34" text-anchor="end" textLength="107.82" lengthAdjust="spacingAndGlyphs">G0 to G1 transition</text>
<rect x="1608.85" y="1268.67" width="278.25" height="15.7" fill="#a4bbd7"/>
<text x="1603.15" y="1281.07" text-anchor="end" textLength="170.34" lengthAdjust="spacingAndGlyphs">multicellular organism growth</text>
<rect x="1608.85" y="1286.4" width="278.15" height="15.7" fill="#a4bbd7"/>
<text x="1603.15" y="1298.8" text-anchor="end" textLength="93.44" lengthAdjust="spacingAndGlyphs">RNA localization</text>
<rect x="1608.85" y="1304.13" width="277.05" height="15.7" fill="#a4bbd7"/>
<text x="1603.15" y="1316.53" text-anchor="end" textLength="252.99" lengthAdjust="spacingAndGlyphs">hematopoietic progenitor cell differentiation</text>
<rect x="1608.85" y="1321.86" width="276.95" height="15.7" fill="#a4bbd7"/>
<text x="1603.15" y="1334.26" text-anchor="end" textLength="152.46" lengthAdjust="spacingAndGlyphs">DNA conformation change</text>
<rect x="1608.85" y="1339.59" width="268.85" height="15.7" fill="#a4bbd7"/>
<text x="1603.15" y="1351.99" text-anchor="end" textLength="202.77" lengthAdjust="spacingAndGlyphs">protein localization to chromosome</text>
<rect x="1608.85" y="1357.32" width="268.85" height="15.7" fill="#a4bbd7"/>
<text x="1603.15" y="1369.72" text-anchor="end" textLength="110.95" lengthAdjust="spacingAndGlyphs">nucleus localization</text>
<rect x="1608.85" y="1375.05" width="268.55" height="15.7" fill="#a4bbd7"/>
<text x="1603.15" y="1387.45" text-anchor="end" textLength="82.13" lengthAdjust="spacingAndGlyphs">demethylation</text>
<rect x="1608.85" y="1392.78" width="268.15" height="15.7" fill="#a4bbd7"/>
<text x="1603.15" y="1405.18" text-anchor="end" textLength="131.1" lengthAdjust="spacingAndGlyphs">DNA strand elongation</text>
<rect x="1608.85" y="1410.51" width="266.05" height="15.7" fill="#a4bbd7"/>
<text x="1603.15" y="1422.91" text-anchor="end" textLength="67.79" lengthAdjust="spacingAndGlyphs">methylation</text>
<rect x="1608.85" y="1428.24" width="265.65" height="15.7" fill="#a4bbd7"/>
<text x="1603.15" y="1440.64" text-anchor="end" textLength="152.72" lengthAdjust="spacingAndGlyphs">double-strand break repair</text>
<rect x="1608.85" y="1445.97" width="265.55" height="15.7" fill="#a4bbd7"/>
<text x="1603.15" y="1458.37" text-anchor="end" textLength="162.86" lengthAdjust="spacingAndGlyphs">response to interferon-alpha</text>
<rect x="1608.85" y="1463.7" width="265.05" height="15.7" fill="#a4bbd7"/>
<text x="1603.15" y="1476.1" text-anchor="end" textLength="134.22" lengthAdjust="spacingAndGlyphs">stem cell differentiation</text>
<rect x="1608.85" y="1481.43" width="264.15" height="15.7" fill="#a4bbd7"/>
<text x="1603.15" y="1493.83" text-anchor="end" textLength="150.24" lengthAdjust="spacingAndGlyphs">protein autoubiquitination</text>
<rect x="1608.85" y="1499.16" width="262.75" height="15.7" fill="#a4bbd7"/>
<text x="1603.15" y="1511.56" text-anchor="end" textLength="225.8" lengthAdjust="spacingAndGlyphs">protein-containing complex localization</text>
<rect x="1283.3" y="1516.89" width="325.35" height="15.7" fill="#f5862f"/>
<text x="1618.05" y="1529.29" textLength="394.32" lengthAdjust="spacingAndGlyphs" clip-path="url(#edge)">production of molecular mediator involved in inflammatory response</text>
<rect x="1282.3" y="1534.62" width="326.35" height="15.7" fill="#f5862f"/>
<text x="1618.05" y="1547.02" textLength="187.65" lengthAdjust="spacingAndGlyphs">liposaccharide metabolic process</text>
<rect x="1282.1" y="1552.35" width="326.55" height="15.7" fill="#f5862f"/>
<text x="1618.05" y="1564.75" textLength="257.1" lengthAdjust="spacingAndGlyphs">protein localization to endoplasmic reticulum</text>
<rect x="1277.6" y="1570.08" width="331.05" height="15.7" fill="#f5862f"/>
<text x="1618.05" y="1582.48" textLength="228.31" lengthAdjust="spacingAndGlyphs">protein exit from endoplasmic reticulum</text>
<rect x="1275.2" y="1587.81" width="333.45" height="15.7" fill="#f5862f"/>
<text x="1618.05" y="1600.21" textLength="196.96" lengthAdjust="spacingAndGlyphs">trivalent inorganic cation transport</text>
<rect x="1274.3" y="1605.54" width="334.35" height="15.7" fill="#f5862f"/>
<text x="1618.05" y="1617.94" textLength="118.75" lengthAdjust="spacingAndGlyphs">endosomal transport</text>
<rect x="1274" y="1623.27" width="334.65" height="15.7" fill="#f5862f"/>
<text x="1618.05" y="1635.67" textLength="74.78" lengthAdjust="spacingAndGlyphs">phagocytosis</text>
<rect x="1269.9" y="1641" width="338.75" height="15.7" fill="#f5862f"/>
<text x="1618.05" y="1653.4" textLength="235.27" lengthAdjust="spacingAndGlyphs">carbohydrate derivative catabolic process</text>
<rect x="1266.1" y="1658.73" width="342.55" height="15.7" fill="#f5862f"/>
<text x="1618.05" y="1671.13" textLength="195.21" lengthAdjust="spacingAndGlyphs">oligosaccharide metabolic process</text>
<rect x="1259.8" y="1676.46" width="348.85" height="15.7" fill="#f5862f"/>
<text x="1618.05" y="1688.86" textLength="280.93" lengthAdjust="spacingAndGlyphs">ATP hydrolysis coupled transmembrane transport</text>
<rect x="1259.5" y="1694.19" width="349.15" height="15.7" fill="#f5862f"/>
<text x="1618.05" y="1706.59" textLength="264.96" lengthAdjust="spacingAndGlyphs">nucleoside monophosphate metabolic process</text>
<rect x="1256.3" y="1711.92" width="352.35" height="15.7" fill="#f5862f"/>
<text x="1618.05" y="1724.32" textLength="283.5" lengthAdjust="spacingAndGlyphs">pyridine-containing compound metabolic process</text>
<rect x="1255.5" y="1729.65" width="353.15" height="15.7" fill="#f5862f"/>
<text x="1618.05" y="1742.05" textLength="117" lengthAdjust="spacingAndGlyphs">podosome assembly</text>
<rect x="1252.1" y="1747.38" width="356.55" height="15.7" fill="#f5862f"/>
<text x="1618.05" y="1759.78" textLength="176.61" lengthAdjust="spacingAndGlyphs">carbohydrate catabolic process</text>
<rect x="1250.7" y="1765.11" width="357.95" height="15.7" fill="#f5862f"/>
<text x="1618.05" y="1777.51" textLength="187.98" lengthAdjust="spacingAndGlyphs">proton transmembrane transport</text>
<rect x="1242.3" y="1782.84" width="366.35" height="15.7" fill="#f5862f"/>
<text x="1618.05" y="1795.24" textLength="272.49" lengthAdjust="spacingAndGlyphs">generation of precursor metabolites and energy</text>
<rect x="1237.4" y="1800.57" width="371.25" height="15.7" fill="#f5862f"/>
<text x="1618.05" y="1812.97" textLength="109.38" lengthAdjust="spacingAndGlyphs">response to fungus</text>
<rect x="1236.2" y="1818.3" width="372.45" height="15.7" fill="#f5862f"/>
<text x="1618.05" y="1830.7" textLength="243.43" lengthAdjust="spacingAndGlyphs">nucleoside triphosphate metabolic process</text>
<rect x="1232.3" y="1836.03" width="376.35" height="15.7" fill="#f5862f"/>
<text x="1618.05" y="1848.43" textLength="226.38" lengthAdjust="spacingAndGlyphs">glucose 6-phosphate metabolic process</text>
<rect x="1153.4" y="1853.76" width="455.25" height="15.7" fill="#f5862f"/>
<text x="1618.05" y="1866.16" textLength="284.97" lengthAdjust="spacingAndGlyphs">mitochondrial respiratory chain complex assembly</text>
<rect x="1146.6" y="1871.49" width="462.05" height="15.7" fill="#f5862f"/>
<text x="1618.05" y="1883.89" textLength="235" lengthAdjust="spacingAndGlyphs">NADH dehydrogenase complex assembly</text>
<rect x="1098.1" y="1889.22" width="510.55" height="15.7" fill="#f5862f"/>
<text x="1618.05" y="1901.62" textLength="125.88" lengthAdjust="spacingAndGlyphs">granulocyte activation</text>
<rect x="1095" y="1906.95" width="513.65" height="15.7" fill="#f5862f"/>
<text x="1618.05" y="1919.35" textLength="173.45" lengthAdjust="spacingAndGlyphs">neutrophil mediated immunity</text>
<path d="M1068.75 1105.8L1970.1 1105.8" stroke="#1c1c1c" stroke-width="1.25" fill="none"/>
<path d="M1069.3 1105.8L1069.3 1099.8" stroke="#1c1c1c" stroke-width="1.25" fill="none"/>
<text x="1069.3" y="1096.5" text-anchor="middle" textLength="21.86" lengthAdjust="spacingAndGlyphs">-3.0</text>
<path d="M1159.33 1105.8L1159.33 1099.8" stroke="#1c1c1c" stroke-width="1.25" fill="none"/>
<text x="1159.33" y="1096.5" text-anchor="middle" textLength="21.86" lengthAdjust="spacingAndGlyphs">-2.5</text>
<path d="M1249.35 1105.8L1249.35 1099.8" stroke="#1c1c1c" stroke-width="1.25" fill="none"/>
<text x="1249.35" y="1096.5" text-anchor="middle" textLength="21.86" lengthAdjust="spacingAndGlyphs">-2.0</text>
<path d="M1339.38 1105.8L1339.38 1099.8" stroke="#1c1c1c" stroke-width="1.25" fill="none"/>
<text x="1339.38" y="1096.5" text-anchor="middle" textLength="21.86" lengthAdjust="spacingAndGlyphs">-1.5</text>
<path d="M1429.4 1105.8L1429.4 1099.8" stroke="#1c1c1c" stroke-width="1.25" fill="none"/>
<text x="1429.4" y="1096.5" text-anchor="middle" textLength="21.86" lengthAdjust="spacingAndGlyphs">-1.0</text>
<path d="M1519.42 1105.8L1519.42 1099.8" stroke="#1c1c1c" stroke-width="1.25" fill="none"/>
<text x="1519.42" y="1096.5" text-anchor="middle" textLength="21.86" lengthAdjust="spacingAndGlyphs">-0.5</text>
<path d="M1609.45 1105.8L1609.45 1099.8" stroke="#1c1c1c" stroke-width="1.25" fill="none"/>
<text x="1609.45" y="1096.5" text-anchor="middle" textLength="16.7" lengthAdjust="spacingAndGlyphs">0.0</text>
<path d="M1699.48 1105.8L1699.48 1099.8" stroke="#1c1c1c" stroke-width="1.25" fill="none"/>
<text x="1699.48" y="1096.5" text-anchor="middle" textLength="16.7" lengthAdjust="spacingAndGlyphs">0.5</text>
<path d="M1789.5 1105.8L1789.5 1099.8" stroke="#1c1c1c" stroke-width="1.25" fill="none"/>
<text x="1789.5" y="1096.5" text-anchor="middle" textLength="16.7" lengthAdjust="spacingAndGlyphs">1.0</text>
<path d="M1879.53 1105.8L1879.53 1099.8" stroke="#1c1c1c" stroke-width="1.25" fill="none"/>
<text x="1879.53" y="1096.5" text-anchor="middle" textLength="16.7" lengthAdjust="spacingAndGlyphs">1.5</text>
<path d="M1969.55 1105.8L1969.55 1099.8" stroke="#1c1c1c" stroke-width="1.25" fill="none"/>
<text x="1969.55" y="1096.5" text-anchor="middle" textLength="16.7" lengthAdjust="spacingAndGlyphs">2.0</text>
<path d="M1068.75 1927.95L1970.1 1927.95" stroke="#1c1c1c" stroke-width="1.25" fill="none"/>
<path d="M1069.3 1927.95L1069.3 1933.95" stroke="#1c1c1c" stroke-width="1.25" fill="none"/>
<text x="1069.3" y="1944.85" text-anchor="middle" textLength="21.86" lengthAdjust="spacingAndGlyphs">-3.0</text>
<path d="M1159.33 1927.95L1159.33 1933.95" stroke="#1c1c1c" stroke-width="1.25" fill="none"/>
<text x="1159.33" y="1944.85" text-anchor="middle" textLength="21.86" lengthAdjust="spacingAndGlyphs">-2.5</text>
<path d="M1249.35 1927.95L1249.35 1933.95" stroke="#1c1c1c" stroke-width="1.25" fill="none"/>
<text x="1249.35" y="1944.85" text-anchor="middle" textLength="21.86" lengthAdjust="spacingAndGlyphs">-2.0</text>
<path d="M1339.38 1927.95L1339.38 1933.95" stroke="#1c1c1c" stroke-width="1.25" fill="none"/>
<text x="1339.38" y="1944.85" text-anchor="middle" textLength="21.86" lengthAdjust="spacingAndGlyphs">-1.5</text>
<path d="M1429.4 1927.95L1429.4 1933.95" stroke="#1c1c1c" stroke-width="1.25" fill="none"/>
<text x="1429.4" y="1944.85" text-anchor="middle" textLength="21.86" lengthAdjust="spacingAndGlyphs">-1.0</text>
<path d="M1519.42 1927.95L1519.42 1933.95" stroke="#1c1c1c" stroke-width="1.25" fill="none"/>
<text x="1519.42" y="1944.85" text-anchor="middle" textLength="21.86" lengthAdjust="spacingAndGlyphs">-0.5</text>
<path d="M1609.45 1927.95L1609.45 1933.95" stroke="#1c1c1c" stroke-width="1.25" fill="none"/>
<text x="1609.45" y="1944.85" text-anchor="middle" textLength="16.7" lengthAdjust="spacingAndGlyphs">0.0</text>
<path d="M1699.48 1927.95L1699.48 1933.95" stroke="#1c1c1c" stroke-width="1.25" fill="none"/>
<text x="1699.48" y="1944.85" text-anchor="middle" textLength="16.7" lengthAdjust="spacingAndGlyphs">0.5</text>
<path d="M1789.5 1927.95L1789.5 1933.95" stroke="#1c1c1c" stroke-width="1.25" fill="none"/>
<text x="1789.5" y="1944.85" text-anchor="middle" textLength="16.7" lengthAdjust="spacingAndGlyphs">1.0</text>
<path d="M1879.53 1927.95L1879.53 1933.95" stroke="#1c1c1c" stroke-width="1.25" fill="none"/>
<text x="1879.53" y="1944.85" text-anchor="middle" textLength="16.7" lengthAdjust="spacingAndGlyphs">1.5</text>
<path d="M1969.55 1927.95L1969.55 1933.95" stroke="#1c1c1c" stroke-width="1.25" fill="none"/>
<text x="1969.55" y="1944.85" text-anchor="middle" textLength="16.7" lengthAdjust="spacingAndGlyphs">2.0</text>
<text x="1609.45" y="1957.55" text-anchor="middle" textLength="168.69" lengthAdjust="spacingAndGlyphs">Normalized Enrichment Score</text>
</g>
</svg>
</body>
</html>
